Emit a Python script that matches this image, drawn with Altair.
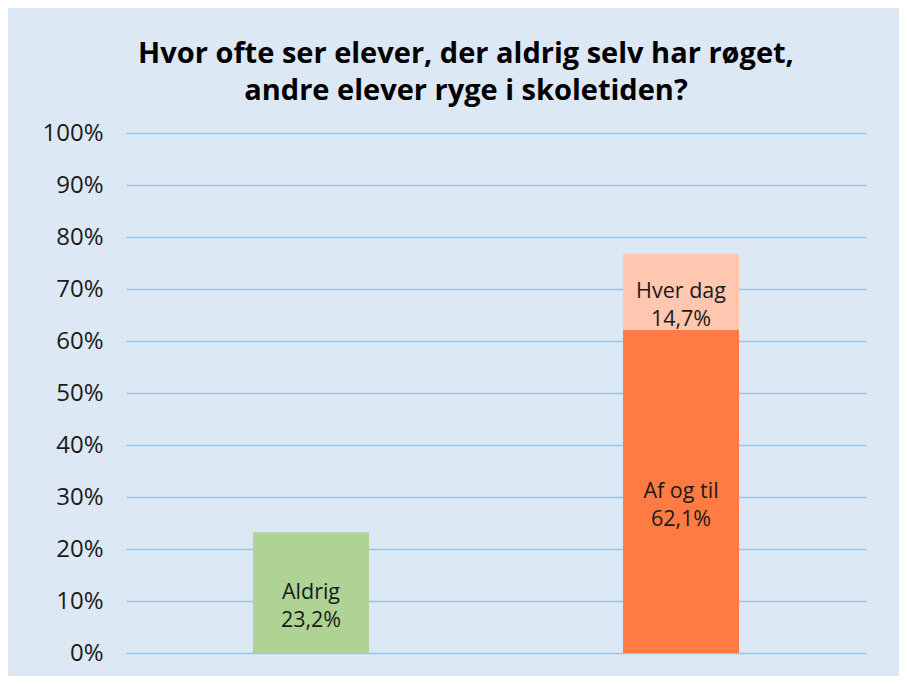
import altair as alt
import pandas as pd

groups = ["Ryger ikke", "Ser rygning", "Ser rygning"]
answers = ["Aldrig", "Af og til", "Hver dag"]
values = [23.2, 62.1, 14.7]
stack_order = [0, 0, 1]
colors = ["#AED395", "#FF7B43", "#FFC6B0"]
y_ticks = [0, 10, 20, 30, 40, 50, 60, 70, 80, 90, 100]
title_lines = ["Hvor ofte ser elever, der aldrig selv har røget,",
               "andre elever ryge i skoletiden?"]

df = pd.DataFrame({"group": groups, "answer": answers, "value": values,
                   "order": stack_order})

FONT = "Open Sans"

base = alt.Chart(df).transform_stack(
    stack="value", groupby=["group"], sort=[alt.SortField("order")], as_=["y0", "y1"]
).transform_calculate(
    mid="(datum.y0 + datum.y1) / 2",
    label="datum.answer + '\\n' + replace(format(datum.value, '.1f'), '.', ',') + '%'",
)

x_enc = alt.X("group:N", sort=["Ryger ikke", "Ser rygning"], axis=None,
              scale=alt.Scale(paddingInner=0.6865, paddingOuter=0.3432))

bars = base.mark_bar().encode(
    x=x_enc,
    y=alt.Y("y0:Q", scale=alt.Scale(domain=[0, 100], nice=False),
            axis=alt.Axis(values=y_ticks, labelExpr="datum.value + '%'", title=None,
                          domain=False, ticks=False, labelPadding=23,
                          labelFontSize=24, labelFont=FONT, labelColor="#1a1a1a",
                          grid=True, gridColor="#9DC3E6", gridWidth=1.5)),
    y2="y1:Q",
    color=alt.Color("answer:N", scale=alt.Scale(domain=answers, range=colors), legend=None),
)

texts = base.mark_text(font=FONT, fontSize=21.5, color="#1a1a1a", lineBreak="\n",
                       lineHeight=28, baseline="middle", align="center").encode(
    x=x_enc,
    y=alt.Y("mid:Q"),
    text="label:N",
)

chart = alt.layer(bars, texts).properties(
    width=740, height=520,
    title=alt.Title(title_lines, font=FONT, fontSize=29, fontWeight="bold", color="black",
                    anchor="middle", lineHeight=37, offset=15, dx=-30),
    autosize=alt.AutoSizeParams(type="none"),
    padding={"left": 118, "top": 125, "right": 33, "bottom": 23},
    background="#DDE8F5",
).configure_view(stroke=None)

chart.save("out.html", embed_options={"renderer": "svg", "actions": False})
